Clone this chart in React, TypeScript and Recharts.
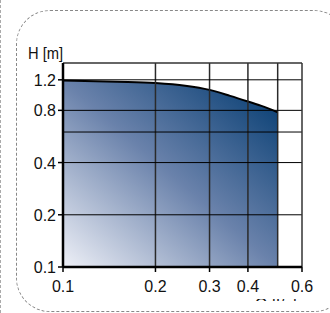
import { AreaChart, Area, XAxis, YAxis, ReferenceLine } from 'recharts';

// pump curve (log-log)
const flow = [0.1, 0.15, 0.2, 0.25, 0.3, 0.35, 0.4, 0.45, 0.5];
const head = [1.19, 1.17, 1.15, 1.11, 1.05, 0.97, 0.9, 0.84, 0.78];
const xTicks = [0.1, 0.2, 0.3, 0.4, 0.5, 0.6];
const yTicks = [0.1, 0.2, 0.4, 0.6, 0.8, 1.2];
const xGrid = [0.2, 0.3, 0.4, 0.5];
const yGrid = [0.2, 0.4, 0.6, 0.8, 1.2];

const data = flow.map((q, i) => ({ q, h: head[i] }));

const font = '"Liberation Sans", Arial, sans-serif';

const AxisTick = (props: any) => {
  const { x, y, payload, textAnchor, dy } = props;
  return (
    <text x={x} y={y} dy={dy} textAnchor={textAnchor} fontSize={16} fontFamily={font} fill="#111">
      {String(payload.value)}
    </text>
  );
};

export default function App() {
  return (
    <div style={{ position: 'absolute', left: 0, top: 0, width: 330, height: 313, overflow: 'hidden', background: '#fff', fontFamily: font }}>
      {/* dashed frames */}
      <div style={{ position: 'absolute', left: 0, top: 0, width: 0, height: 313, borderLeft: '1px dashed #aaa' }} />
      <div style={{ position: 'absolute', left: 16, top: 10, width: 330, height: 300, border: '1px dashed #888', borderRadius: 34 }} />

      <div style={{ position: 'absolute', left: 28, top: 46, fontSize: 16, lineHeight: '16px', color: '#111', transform: 'scaleX(0.92)', transformOrigin: 'left top' }}>H [m]</div>

      <AreaChart
        width={330}
        height={313}
        data={data}
        margin={{ top: 63, right: 28, left: 0, bottom: 16 }}
        style={{ position: 'absolute', left: 0, top: 0 }}
      >
        <defs>
          <linearGradient id="pumpFill" x1="0" y1="1" x2="1" y2="0">
            <stop offset="0%" stopColor="#eef0f7" />
            <stop offset="50%" stopColor="#6a82ab" />
            <stop offset="100%" stopColor="#00396f" />
          </linearGradient>
        </defs>
        <Area
          type="monotone"
          dataKey="h"
          baseValue={0.1}
          stroke="#000"
          strokeWidth={2}
          fill="url(#pumpFill)"
          fillOpacity={1}
          isAnimationActive={false}
          dot={false}
          activeDot={false}
        />
        {xGrid.map((v) => (
          <ReferenceLine key={'x' + v} x={v} stroke="#2a2a2a" strokeWidth={1.5} />
        ))}
        {yGrid.map((v) => (
          <ReferenceLine key={'y' + v} y={v} stroke="#000" strokeWidth={1} />
        ))}
        <ReferenceLine y={1.5} stroke="#333" strokeWidth={1.5} ifOverflow="visible" />
        <ReferenceLine x={0.6} stroke="#333" strokeWidth={1.5} ifOverflow="visible" />
        <XAxis
          dataKey="q"
          type="number"
          scale="log"
          domain={[0.1, 0.6]}
          ticks={xTicks}
          allowDataOverflow
          height={30}
          tickSize={5}
          axisLine={{ stroke: '#000', strokeWidth: 2.5 }}
          tickLine={{ stroke: '#000', strokeWidth: 1.5 }}
          tick={<AxisTick textAnchor="middle" dy={18} />}
        />
        <YAxis
          type="number"
          scale="log"
          domain={[0.1, 1.5]}
          ticks={yTicks}
          allowDataOverflow
          width={63}
          tickSize={5}
          axisLine={{ stroke: '#000', strokeWidth: 2.5 }}
          tickLine={{ stroke: '#000', strokeWidth: 1.5 }}
          tick={<AxisTick textAnchor="end" dy={6} />}
        />
      </AreaChart>

      {/* axis title, cut off by the frame in the reference */}
      <div style={{ position: 'absolute', left: 255, top: 299, height: 2, overflow: 'hidden' }}>
        <div style={{ marginTop: -2, fontSize: 16, lineHeight: '16px', color: '#111', whiteSpace: 'nowrap' }}>Q [l/s]</div>
      </div>
    </div>
  );
}
